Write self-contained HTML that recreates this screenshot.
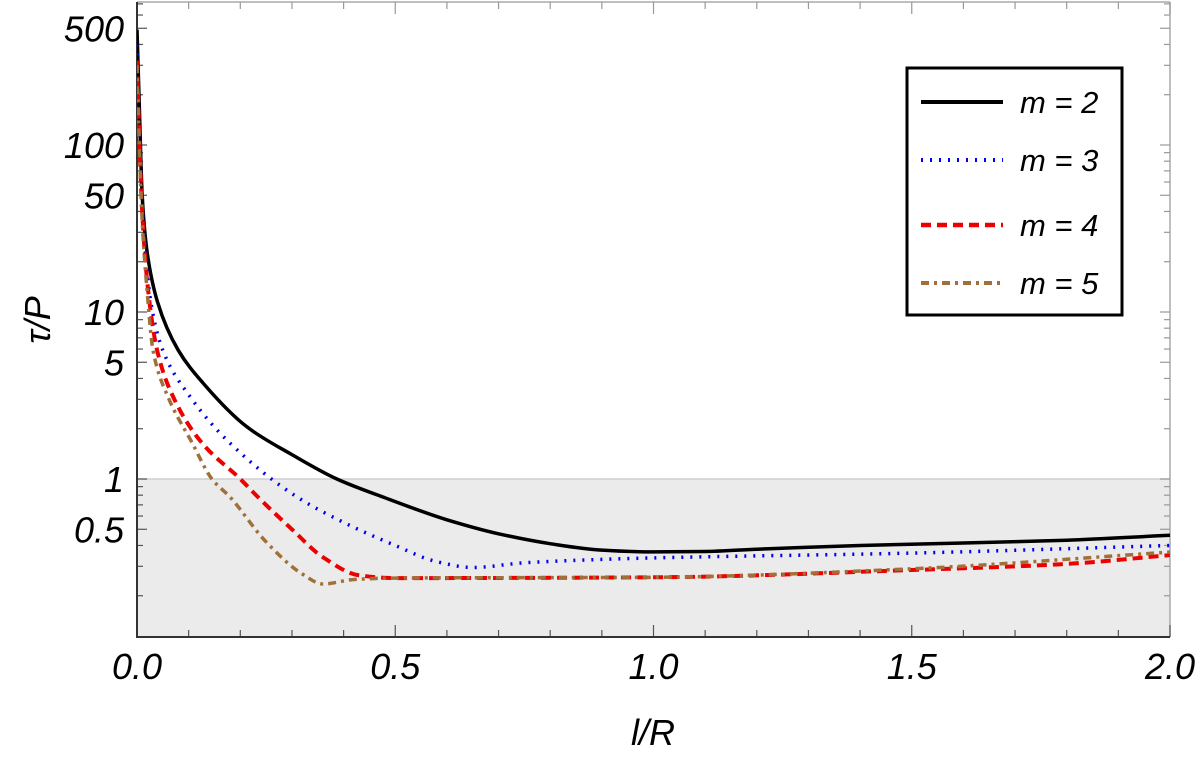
<!DOCTYPE html>
<html><head><meta charset="utf-8">
<style>
html,body{margin:0;padding:0;background:#fff;}
svg text{font-family:"Liberation Sans",Arial,sans-serif;font-style:italic;}
</style></head>
<body>
<svg id="chart" width="1200" height="755" viewBox="0 0 1200 755" xmlns="http://www.w3.org/2000/svg">
<g id="plot"></g>
</svg>
<script>
const xs2 = [0,0.005,0.01,0.019,0.04,0.08,0.128,0.213,0.3,0.387,0.476,0.6,0.7,0.8,0.9,1.0,1.1,1.2,1.4,1.6,1.8,2.0];
const m2 = [490,150,50,23.6,11.4,5.9,3.75,2.05,1.4,1.0,0.78,0.57,0.47,0.41,0.375,0.366,0.368,0.38,0.40,0.414,0.43,0.46];
const xs3 = [0,0.005,0.01,0.027,0.05,0.103,0.18,0.31,0.4,0.5,0.58,0.65,0.75,0.9,1.0,1.5,2.0];
const m3 = [400,110,45,11.4,5.9,3.1,1.64,0.78,0.55,0.40,0.32,0.295,0.315,0.33,0.337,0.36,0.40];
const xs4 = [0,0.005,0.01,0.02,0.039,0.07,0.126,0.2,0.234,0.3,0.36,0.43,0.5,1.0,1.5,1.8,2.0];
const m4 = [320,100,40,15,5.9,3.1,1.64,1.0,0.78,0.5,0.34,0.265,0.255,0.258,0.285,0.31,0.35];
const xs5 = [0,0.005,0.01,0.02,0.031,0.06,0.107,0.145,0.18,0.25,0.32,0.36,0.42,0.5,1.0,1.5,2.0];
const m5 = [300,90,35,13,5.9,3.1,1.64,1.0,0.78,0.42,0.27,0.235,0.25,0.255,0.258,0.29,0.365];
const xTicks = ["0.0","0.5","1.0","1.5","2.0"];
const yTicks = [500,100,50,10,5,1,0.5];
const yTickLabels = ["500","100","50","10","5","1","0.5"];
const legendLabels = ["m = 2","m = 3","m = 4","m = 5"];

const L=137,R=1170,T=2,B=637;
const X=v=>L+(R-L)*v/2;
const Y=v=>479-167*Math.log10(v);
const NS="http://www.w3.org/2000/svg";
const g=document.getElementById('plot');
function mk(t,a,p){const e=document.createElementNS(NS,t);for(const k in a)e.setAttribute(k,a[k]);(p||g).appendChild(e);return e;}

// monotone cubic path in screen coordinates
function smoothPath(px,py){
 const n=px.length,dx=[],s=[],m=[];
 for(let i=0;i<n-1;i++){dx[i]=px[i+1]-px[i];s[i]=(py[i+1]-py[i])/dx[i];}
 m[0]=s[0];m[n-1]=s[n-2];
 for(let i=1;i<n-1;i++){m[i]=(s[i-1]*s[i]<=0)?0:(3*(dx[i-1]+dx[i]))/((2*dx[i]+dx[i-1])/s[i-1]+(dx[i]+2*dx[i-1])/s[i]);}
 let d='M'+px[0].toFixed(1)+','+py[0].toFixed(1);
 for(let i=0;i<n-1;i++){const h=dx[i]/3;
  d+='C'+(px[i]+h).toFixed(1)+','+(py[i]+m[i]*h).toFixed(1)+' '+(px[i+1]-h).toFixed(1)+','+(py[i+1]-m[i+1]*h).toFixed(1)+' '+px[i+1].toFixed(1)+','+py[i+1].toFixed(1);}
 return d;
}

const sh=mk('rect',{x:L,y:Y(1),width:R-L,height:B-Y(1),fill:'#ebebeb'});


const shl=mk('line',{x1:L,x2:R,y1:Y(1),y2:Y(1),stroke:'#cfcfcf','stroke-width':1.5});



const fr=mk('path',{d:`M${R},${T}V${B}`,stroke:'#aaa','stroke-width':1.5,fill:'none'});


const ft=mk('path',{d:`M${L},${T}H${R}`,stroke:'#aaa','stroke-width':1.5,fill:'none'});



for(let d=-1;d<=2;d++){for(let k=1;k<=9;k++){const v=k*Math.pow(10,d);const y=Y(v);if(y<T||y>B)continue;
 const len=(k==1||k==5)?10:6;
 mk('line',{x1:L,x2:L+len,y1:y,y2:y,stroke:'#555','stroke-width':1.2});
 mk('line',{x1:R,x2:R-len,y1:y,y2:y,stroke:'#999','stroke-width':1.2});}}
yTicks.forEach((v,i)=>{const t=mk('text',{x:124,y:Y(v)+13,'text-anchor':'end','font-size':36,fill:'#000'});t.textContent=yTickLabels[i];
 
 });
for(let i=0;i<=20;i++){const x=X(i*0.1);const len=i%5==0?12:7;
 mk('line',{x1:x,x2:x,y1:B,y2:B-len,stroke:'#555','stroke-width':1.2});
 mk('line',{x1:x,x2:x,y1:T,y2:T+len,stroke:'#999','stroke-width':1.2});}
xTicks.forEach(s=>{const t=mk('text',{x:X(parseFloat(s)),y:679,'text-anchor':'middle','font-size':36,fill:'#000'});t.textContent=s;
 
 });
const ax=mk('path',{d:`M${L},${T}V${B}H${R}`,stroke:'#333','stroke-width':2,fill:'none'});



const xt=mk('text',{x:653,y:745,'text-anchor':'middle','font-size':36});xt.textContent='l/R';


const yt=mk('text',{x:0,y:0,'text-anchor':'middle','font-size':36,transform:'translate(50,320) rotate(-90)'});yt.textContent='τ/P';



const series=[[xs2,m2,'#000',3.5,'none','line-m2'],[xs3,m3,'#0000ee',3.5,'2 7','line-m3'],[xs4,m4,'#ee0000',4,'10 6','line-m4'],[xs5,m5,'#a0703a',3.5,'8 5 3 5','line-m5']];
const clip=mk('clipPath',{id:'cp'});mk('rect',{x:L,y:T,width:R-L,height:B-T},clip);
series.forEach(s=>{const d=smoothPath(s[0].map(X),s[1].map(Y));
 const p=mk('path',{d:d,stroke:s[2],'stroke-width':s[3],fill:'none','stroke-dasharray':s[4],'clip-path':'url(#cp)','stroke-linejoin':'round'});
 
 });

const lg=mk('g',{});


mk('rect',{x:907,y:68,width:215,height:247,fill:'#fff',stroke:'#000','stroke-width':3},lg);
const ly=[102,160,225,283];
legendLabels.forEach((s,i)=>{const se=series[i];
 const e=mk('g',{},lg);
 
 
 mk('line',{x1:921,x2:1003,y1:ly[i],y2:ly[i],stroke:se[2],'stroke-width':se[3]+0.5,'stroke-dasharray':se[4]},e);
 const t=mk('text',{x:1020,y:ly[i]+11,'font-size':31},e);t.textContent=s;});
</script>
</body></html>
